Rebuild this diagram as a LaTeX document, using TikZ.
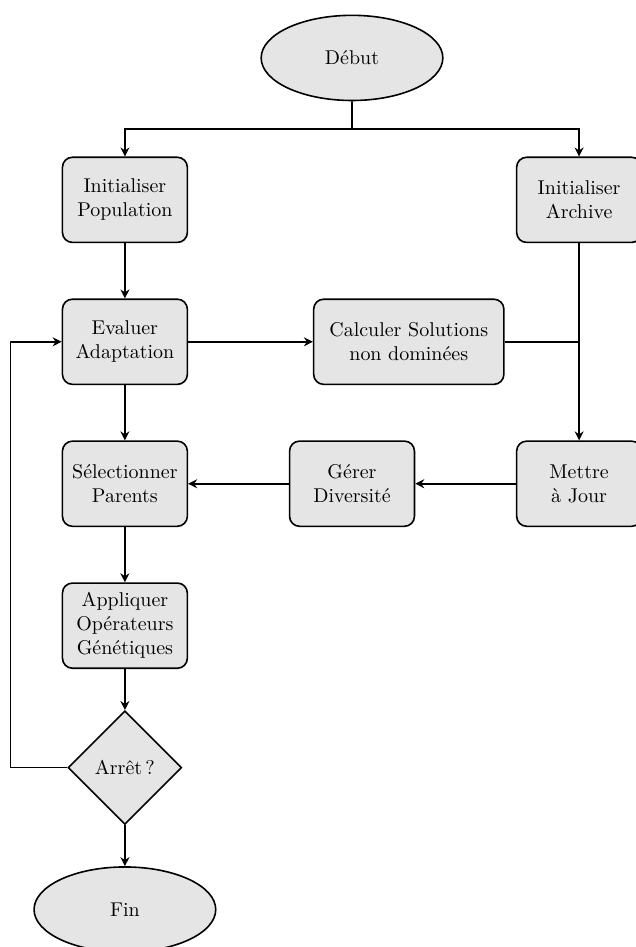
\documentclass[tikz,border=0pt]{standalone}
\usepackage{fontspec}
\usetikzlibrary{calc,positioning,shapes.geometric,arrows.meta}

\begin{document}
\begin{tikzpicture}[
    % general settings
    node distance=2.5cm and 4cm,
    on grid,
    align=center,
    >={Stealth[length=4.5pt,width=4.5pt]},
    % nodes
    base/.style={thick, draw=black, fill=gray!20},
    process/.style={base, rectangle, rounded corners=5pt, minimum width=2.2cm, minimum height=1.5cm},
    wide/.style={process, minimum width=3.35cm},
    terminal/.style={base, ellipse, minimum width=3.2cm, minimum height=1.5cm},
    decision/.style={base, diamond, inner sep=1pt, minimum width=2cm, minimum height=2cm},
    % arrows
    flow/.style={->, thick},
    plainline/.style={thick},
  ]

  % keeps the page the size of the original (it cuts the right column and the end node)
  \useasboundingbox (-2.2,3.52) rectangle (8.99,-13.16);

  \node (initpop)   [process]                         {Initialiser\\Population};
  \node (debut)     [terminal, above right=of initpop] {Début};
  \node (initarch)  [process, right=8cm of initpop]   {Initialiser\\Archive};

  \node (evaluer)   [process, below=of initpop]       {Evaluer\\Adaptation};
  \node (calculer)  [wide, right=5cm of evaluer]      {Calculer Solutions\\non dominées};

  \node (selection) [process, below=of evaluer]       {Sélectionner\\Parents};
  \node (gerer)     [process, right=of selection]     {Gérer\\Diversité};
  \node (majour)    [process, right=of gerer]         {Mettre\\à Jour};

  \node (appliquer) [process, below=of selection]     {Appliquer\\Opérateurs\\Génétiques};
  \node (arret)     [decision, below=of appliquer]    {Arrêt\,?};
  \node (fin)       [terminal, below=of arret]        {Fin};

  % fork under the start node
  \coordinate (split) at ($(debut.south)!0.5!(debut.south |- initpop.north)$);

  \draw[plainline] (debut.south) -- (split);
  \draw[flow] (split) -| (initpop.north);
  \draw[flow] (split) -| (initarch.north);

  % main column
  \draw[flow] (initpop)   -- (evaluer);
  \draw[flow] (evaluer)   -- (selection);
  \draw[flow] (selection) -- (appliquer);
  \draw[flow] (appliquer) -- (arret);
  \draw[flow] (arret)     -- (fin);

  % archive branch
  \draw[flow] (evaluer)   -- (calculer);
  \draw[flow] (initarch)  -- (majour);
  \draw[plainline] (calculer.east) -- (calculer.east -| initarch);
  \draw[flow] (majour)    -- (gerer);
  \draw[flow] (gerer)     -- (selection);

  % loop back when not stopped
  \draw[flow] (arret.west) -- ++(-1,0) |- (evaluer.west);

\end{tikzpicture}
\end{document}
